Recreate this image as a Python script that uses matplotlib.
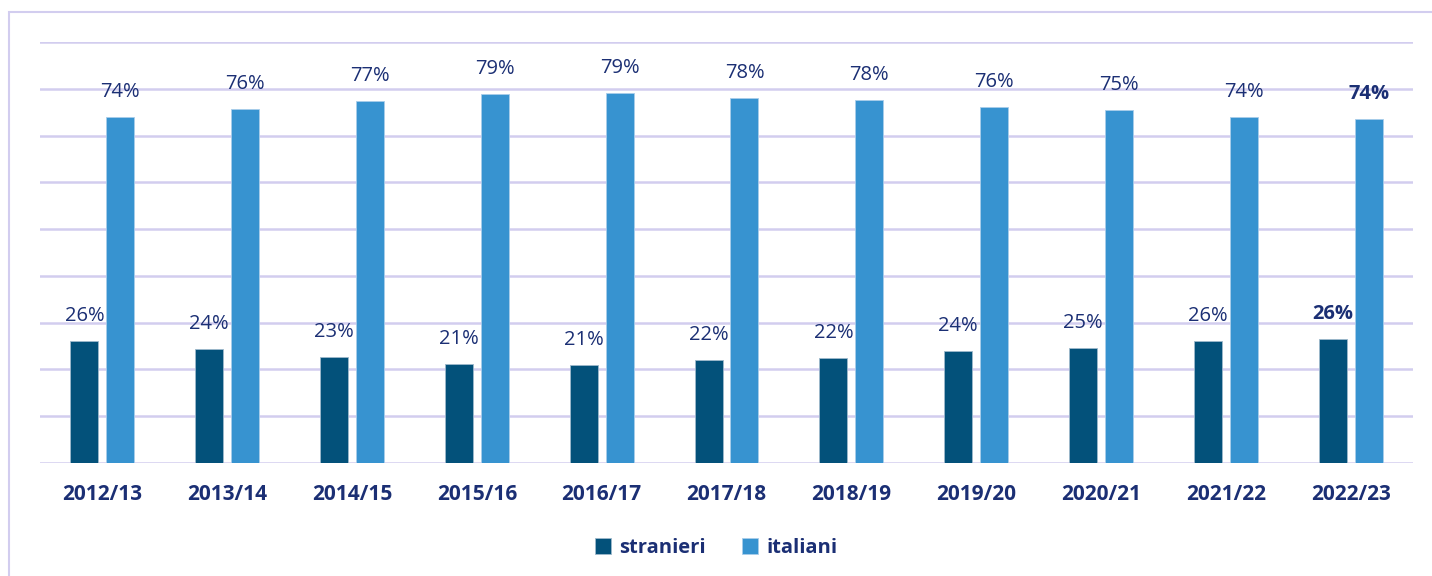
import numpy as np
import matplotlib.pyplot as plt
from matplotlib.patches import Rectangle

# Dati (quota percentuale per anno scolastico)
anni = ["2012/13", "2013/14", "2014/15", "2015/16", "2016/17", "2017/18",
        "2018/19", "2019/20", "2020/21", "2021/22", "2022/23"]
stranieri = [26.1, 24.4, 22.6, 21.2, 20.9, 22.0, 22.4, 23.9, 24.6, 26.1, 26.5]
italiani = [73.9, 75.6, 77.4, 78.8, 79.1, 78.0, 77.6, 76.1, 75.4, 73.9, 73.5]

col_str = "#03517A"
col_ita = "#3793D0"
navy = "#1B2F74"
griglia = "#D2CDEF"

plt.rcParams['font.family'] = ['Open Sans', 'DejaVu Sans']

fig = plt.figure(figsize=(14.32, 5.76), dpi=100)
ax = fig.add_axes([40 / 1432, 1 - 463 / 576, 1373 / 1432, 421 / 576])

x = np.arange(len(anni))
w = 0.224
off = 0.144
b1 = ax.bar(x - off, stranieri, w, color=col_str, edgecolor="#9FB9CC", linewidth=0.6, zorder=3, label="stranieri")
b2 = ax.bar(x + off, italiani, w, color=col_ita, edgecolor="#A9CDEA", linewidth=0.6, zorder=3, label="italiani")

# Etichette dei valori; l'ultimo anno in grassetto
for i in range(len(anni)):
    peso = "bold" if i == len(anni) - 1 else "normal"
    ax.annotate(f"{stranieri[i]:.0f}%", (x[i] - off, stranieri[i]), xytext=(0, 18),
                textcoords="offset points", ha="center", va="center",
                fontsize=14.5, color=navy, fontweight=peso)
    ax.annotate(f"{italiani[i]:.0f}%", (x[i] + off, italiani[i]), xytext=(0, 18),
                textcoords="offset points", ha="center", va="center",
                fontsize=14.5, color=navy, fontweight=peso)

ax.set_xlim(-0.5, len(anni) - 0.5)
ax.set_ylim(0, 90)
ax.set_yticks(np.arange(0, 91, 10))
ax.yaxis.grid(True, color=griglia, linewidth=1.8, zorder=0)
ax.set_yticklabels([])
ax.tick_params(axis="y", length=0)
ax.set_xticks(x)
ax.set_xticklabels(anni, fontsize=15, fontweight="bold", color=navy)
ax.tick_params(axis="x", length=0, pad=15)
for s in ax.spines.values():
    s.set_visible(False)
ax.set_axisbelow(True)

leg = fig.legend(handles=[b1, b2], loc="center", bbox_to_anchor=(0.5, 1 - 548 / 576),
                 ncol=2, frameon=False, fontsize=14.5, handlelength=0.8, handleheight=0.8,
                 handletextpad=0.4, columnspacing=1.8)
for t in leg.get_texts():
    t.set_color(navy)
    t.set_fontweight("bold")

# Cornice esterna
fig.patches.append(Rectangle((9 / 1432, -0.01), 1.0, 1 - 12 / 576 + 0.01, transform=fig.transFigure,
                             fill=False, edgecolor=griglia, linewidth=1.5))

fig.savefig("out.png", dpi=100)
